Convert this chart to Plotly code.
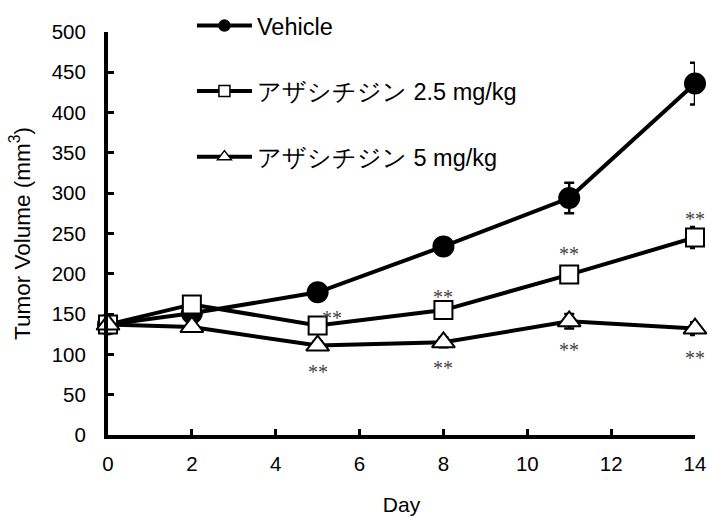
import plotly.graph_objects as go

days = [0, 2, 5, 8, 11, 14]
vehicle = [137, 151, 177, 234, 294, 436]
vehicle_err = [4, 5, 9, 9, 19, 26]
low_dose = [137, 162, 136, 155, 199, 245]
low_err = [4, 5, 5, 6, 10, 13]
high_dose = [137, 134, 111, 115, 141, 132]
high_err = [4, 4, 5, 6, 9, 8]

names = ["Vehicle", "アザシチジン 2.5 mg/kg", "アザシチジン 5 mg/kg"]

# significance marks
sig_days = [5, 5, 8, 8, 11, 11, 14, 14]
sig_y = [151, 84, 177, 89, 231, 112, 274, 102]
sig_xshift = [14, 0, 0, 0, 0, 0, 0, 0]

FONT = "Liberation Sans, Arial, sans-serif"

fig = go.Figure()

series = [
    (vehicle, vehicle_err, "circle", "black", 20, 11),
    (low_dose, low_err, "square", "white", 18, 11),
    (high_dose, high_err, "triangle-up", "white", 20, 12),
]

for i, (vals, errs, sym, fill, size, lsize) in enumerate(series):
    fig.add_trace(go.Scatter(
        x=days, y=vals, name=names[i], legendgroup=f"g{i}", showlegend=False,
        mode="lines+markers",
        line=dict(color="black", width=4),
        marker=dict(symbol=sym, size=size, color=fill,
                    line=dict(color="black", width=2)),
        error_y=dict(type="data", array=errs, visible=True,
                     color="black", thickness=2.5, width=5),
        cliponaxis=False,
    ))
    # legend-only entry with smaller marker, as in the reference
    fig.add_trace(go.Scatter(
        x=[None], y=[None], name=names[i], legendgroup=f"g{i}",
        mode="lines+markers",
        line=dict(color="black", width=4),
        marker=dict(symbol=sym, size=lsize, color=fill,
                    line=dict(color="black", width=1.5)),
    ))

for d, y, xs in zip(sig_days, sig_y, sig_xshift):
    fig.add_annotation(x=d, y=y, text="**", showarrow=False, xshift=xs, yshift=-5,
                       font=dict(family="Liberation Serif, serif", size=20, color="#444"))

fig.update_layout(
    width=709, height=517,
    margin=dict(l=108, r=14, t=32, b=82, autoexpand=False),
    plot_bgcolor="white", paper_bgcolor="white",
    font=dict(family=FONT, size=20.5, color="black"),
    showlegend=True,
    legend=dict(x=0.143, y=1.07, xanchor="left", yanchor="top",
                font=dict(family=FONT, size=23.5, color="black"),
                tracegroupgap=32, itemwidth=55, bgcolor="rgba(0,0,0,0)"),
    xaxis=dict(range=[0, 14], tickvals=[0, 2, 4, 6, 8, 10, 12, 14],
               showgrid=False, zeroline=False, showline=True,
               linecolor="black", linewidth=4, ticks="inside",
               ticklen=6, tickwidth=3, tickcolor="black",
               ticklabelstandoff=7, automargin=False,
               title=dict(text="Day", standoff=25, font=dict(size=21))),
    yaxis=dict(range=[0, 500], tickvals=list(range(0, 501, 50)),
               showgrid=False, zeroline=False, showline=True,
               linecolor="black", linewidth=4, ticks="inside",
               ticklen=6, tickwidth=3, tickcolor="black",
               ticklabelstandoff=14, automargin=False,
               title=dict(text="Tumor Volume (mm<sup>3</sup>)", standoff=16,
                          font=dict(size=22.5))),
)

fig.write_html("out.html")
